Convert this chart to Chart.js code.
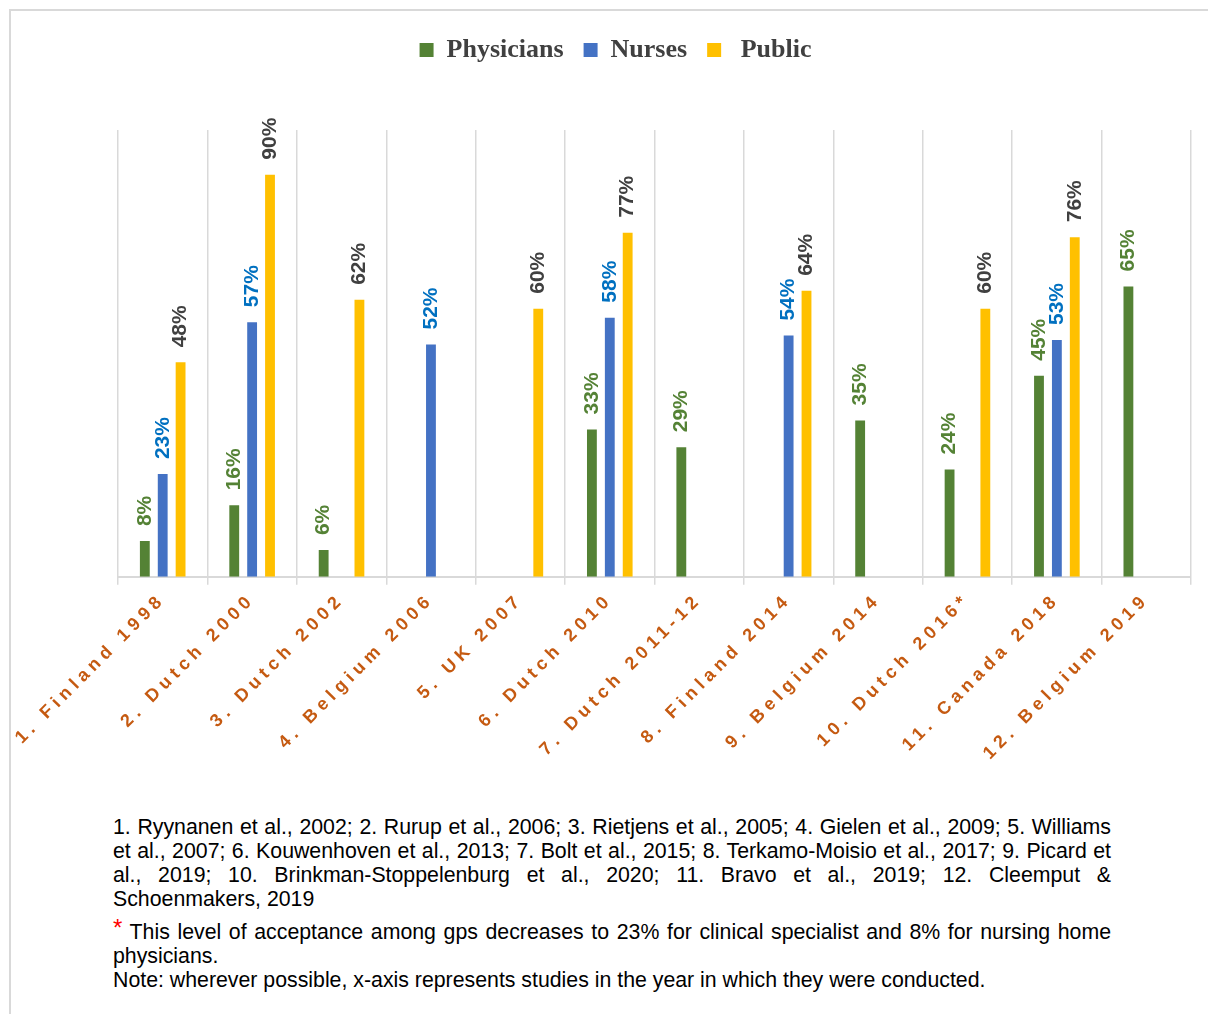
<!DOCTYPE html>
<html>
<head>
<meta charset="utf-8">
<script src="https://cdn.jsdelivr.net/npm/chart.js@4"></script>
<style>
  html, body { margin: 0; padding: 0; background: #fff; }
  .frame { position: absolute; left: 9px; top: 9px; width: 1220px; height: 1020px; border-left: 2px solid #d9d9d9; border-top: 2px solid #d9d9d9; }
  .chart-box { position: absolute; left: 0; top: 0; width: 1208px; height: 800px; }
  .notes { position: absolute; left: 113px; top: 815px; width: 998px; font-family: 'Liberation Sans', Arial, sans-serif; font-size: 21.3px; line-height: 24px; color: #000; }
  .notes div { white-space: nowrap; }
  .j { text-align: justify; text-align-last: justify; }
  .gap { margin-top: 8px; }
  .star { color: #ff0000; font-size: 24px; position: relative; top: -3px; }
</style>
</head>
<body>
<div class="frame"></div>
<div class="chart-box"><canvas id="myChart" width="1208" height="800"></canvas></div>
<div class="notes">
  <div class="j">1. Ryynanen et al., 2002; 2. Rurup et al., 2006; 3. Rietjens et al., 2005; 4. Gielen et al., 2009; 5. Williams</div>
  <div class="j">et al., 2007; 6. Kouwenhoven et al., 2013; 7. Bolt et al., 2015; 8. Terkamo-Moisio et al., 2017; 9. Picard et</div>
  <div class="j">al., 2019; 10. Brinkman-Stoppelenburg et al., 2020; 11. Bravo et al., 2019; 12. Cleemput &amp;</div>
  <div>Schoenmakers, 2019</div>
  <div class="j gap"><span class="star">*</span> This level of acceptance among gps decreases to 23% for clinical specialist and 8% for nursing home</div>
  <div>physicians.</div>
  <div>Note: wherever possible, x-axis represents studies in the year in which they were conducted.</div>
</div>
<script>
const studies = ['1. Finland 1998', '2. Dutch 2000', '3. Dutch 2002', '4. Belgium 2006', '5. UK 2007', '6. Dutch 2010',
  '7. Dutch 2011-12', '8. Finland 2014', '9. Belgium 2014', '10. Dutch 2016*', '11. Canada 2018', '12. Belgium 2019'];
const physicians = [8, 16, 6, null, null, 33, 29, null, 35, 24, 45, 65];
const nurses = [23, 57, null, 52, null, 58, null, 54, null, null, 53, null];
const publicVals = [48, 90, 62, null, 60, 77, null, 64, null, 60, 76, null];

const barColors = ['#548235', '#4472C4', '#FFC000'];
const labelColors = ['#548235', '#0070C0', '#404040'];
const sans = "'Liberation Sans', Arial, sans-serif";

// percent labels above each bar, turned upright
const valueLabels = {
  id: 'valueLabels',
  afterDatasetsDraw(chart) {
    const ctx = chart.ctx;
    chart.data.datasets.forEach(function (ds, i) {
      const meta = chart.getDatasetMeta(i);
      meta.data.forEach(function (bar, j) {
        const v = ds.data[j];
        if (v == null) return;
        ctx.save();
        ctx.translate(bar.x, bar.y - 15);
        ctx.rotate(-Math.PI / 2);
        ctx.font = 'bold 21px ' + sans;
        ctx.fillStyle = labelColors[i];
        ctx.textAlign = 'left';
        ctx.textBaseline = 'middle';
        ctx.fillText(v + '%', 0, 0);
        ctx.restore();
      });
    });
  }
};

// spaced out category labels (measured and drawn with the spacing)
const spacedTicks = {
  id: 'spacedTicks',
  beforeLayout(chart) {
    const sc = chart.scales.x;
    if (!sc || sc._spaced) return;
    const up = sc.update;
    const dl = sc.drawLabels;
    sc.update = function () {
      this.ctx.save();
      this.ctx.letterSpacing = '5px';
      const r = up.apply(this, arguments);
      this.ctx.restore();
      return r;
    };
    sc.drawLabels = function (area) {
      this.ctx.save();
      this.ctx.letterSpacing = '5px';
      dl.call(this, area);
      this.ctx.restore();
    };
    sc._spaced = true;
  }
};

// room between legend and plot
const legendGap = {
  id: 'legendGap',
  beforeInit(chart) {
    const fit = chart.legend.fit;
    chart.legend.fit = function () {
      fit.bind(chart.legend)();
      this.height += 57;
    };
  }
};

const ctx = document.getElementById('myChart').getContext('2d');
new Chart(ctx, {
  type: 'bar',
  data: {
    labels: studies,
    datasets: [
      { label: 'Physicians', data: physicians, backgroundColor: barColors[0] },
      { label: 'Nurses', data: nurses, backgroundColor: barColors[1] },
      { label: ' Public', data: publicVals, backgroundColor: barColors[2] }
    ]
  },
  options: {
    responsive: false,
    animation: false,
    devicePixelRatio: 1,
    barPercentage: 0.55,
    categoryPercentage: 0.6,
    layout: { padding: { left: 40, right: 17, top: 17, bottom: 32 } },
    plugins: {
      legend: {
        position: 'top',
        labels: {
          boxWidth: 14,
          boxHeight: 14,
          padding: 20,
          color: '#404040',
          font: { family: "'Liberation Serif', 'Times New Roman', serif", size: 26, weight: 'bold' }
        }
      },
      tooltip: { enabled: false }
    },
    scales: {
      x: {
        offset: true,
        grid: { offset: true, color: '#d9d9d9', lineWidth: 1.5, tickLength: 8 },
        border: { display: true, color: '#d9d9d9', width: 2 },
        ticks: {
          color: '#C55A11',
          font: { family: sans, size: 18, weight: 'bold' },
          minRotation: 45,
          maxRotation: 45,
          autoSkip: false,
          padding: 4
        }
      },
      y: {
        display: true,
        min: 0,
        max: 100,
        grid: { display: false },
        border: { display: false },
        ticks: { display: false },
        afterFit: function (s) { s.width = 78; }
      }
    }
  },
  plugins: [valueLabels, spacedTicks, legendGap]
});
</script>
</body>
</html>
